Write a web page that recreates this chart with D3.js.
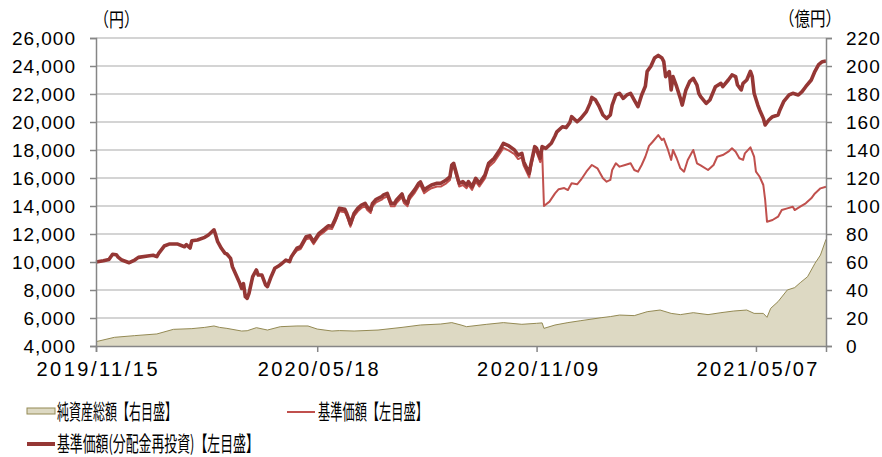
<!DOCTYPE html>
<html>
<head>
<meta charset="utf-8">
<script src="https://cdn.jsdelivr.net/npm/d3@7"></script>
<style>
  body { margin: 0; background: #fff; }
  .tick text { font-family: "Liberation Sans", Arial, sans-serif; font-size: 19px; fill: #000; letter-spacing: 1px; }
  .jp { font-family: "Noto Sans CJK JP", "Noto Sans CJK SC", sans-serif; fill: #000; }
</style>
</head>
<body>
<div id="chart"></div>
<script>
// trading-day index (x) and values

// 基準価額(分配金再投資) [day, yen]
var reinvest = [[0,10000],[4,10090],[7,10180],[9,10550],[11,10520],[12,10350],[14,10140],[18,9950],[21,10140],[23,10330],
  [28,10430],[31,10480],[33,10380],[34,10620],[37,11140],[40,11290],[44,11290],[48,11090],[49,11240],[51,11000],
  [52,11520],[55,11570],[59,11760],[61,11930],[64,12300],[65,11900],[66,11450],[68,10980],[70,10620],[71,10570],
  [73,10260],[74,9660],[76,9070],[78,8480],[79,8120],[80,8450],[81,7520],[82,7410],[83,7760],[85,8950],
  [87,9430],[88,9070],[90,9070],[92,8360],[93,8240],[95,8950],[97,9550],[99,9710],[101,9910],[103,10140],
  [105,10020],[106,10380],[109,10980],[111,11090],[114,11810],[116,11880],[118,11450],[121,12050],[124,12360],[126,12590],
  [128,12550],[130,13120],[132,13830],[135,13760],[136,13480],[137,13120],[138,12710],[140,13480],[142,13830],[144,14070],
  [146,14190],[147,13950],[149,13710],[150,14190],[152,14480],[155,14670],[156,14790],[158,14900],[159,14550],[160,14190],
  [162,14190],[163,14430],[166,14860],[167,14430],[169,14190],[170,14670],[173,15190],[175,15620],[176,15720],[178,15140],
  [180,15340],[182,15500],[185,15620],[187,15620],[190,15860],[192,16090],[193,16930],[194,17050],[196,16090],[197,15620],
  [199,15740],[201,15500],[202,15740],[204,15380],[206,15980],[208,15620],[211,16210],[213,17050],[216,17410],[219,18000],
  [221,18480],[224,18290],[227,18000],[229,17640],[231,17760],[232,17160],[235,16330],[236,17050],[238,18240],[239,18120],
  [241,17410],[242,18240],[244,18120],[247,18480],[249,19000],[250,19300],[253,19660],[255,19600],[257,19950],[258,20380],
  [261,20020],[263,20260],[266,20740],[268,21330],[269,21760],[271,21570],[273,21090],[275,20500],[277,20260],[279,20500],
  [280,21210],[282,21930],[284,22050],[286,21690],[288,21930],[290,22050],[292,21570],[294,21090],[296,21930],[298,22550],
  [299,23620],[301,23980],[303,24570],[305,24760],[307,24570],[308,24310],[309,23240],[311,23600],[312,22290],[313,23240],
  [315,22520],[317,21690],[318,21210],[320,22290],[322,22880],[324,23120],[326,22640],[327,22050],[328,21810],[331,21330],
  [333,21570],[336,22520],[339,22760],[340,22520],[343,23000],[345,23360],[347,23240],[348,22640],[350,22290],[351,22760],
  [353,23000],[355,23620],[356,23240],[357,22050],[359,21210],[360,20860],[362,20260],[363,19790],[365,20140],[367,20380],
  [370,20500],[371,20860],[373,21450],[376,21930],[378,22050],[381,21930],[383,22170],[385,22520],[388,23000],[390,23620],
  [392,24100],[394,24310],[396,24360]];

// 基準価額 [day, yen]
var nav = [[0,10000],[4,10090],[7,10180],[9,10550],[11,10520],[12,10350],[14,10140],[18,9950],[21,10140],[23,10330],
  [28,10430],[31,10480],[33,10380],[34,10620],[37,11140],[40,11290],[44,11290],[48,11090],[49,11240],[51,11000],
  [52,11520],[55,11570],[59,11760],[61,11930],[64,12300],[65,11900],[66,11450],[68,10980],[70,10620],[71,10570],
  [73,10260],[74,9660],[76,9070],[78,8480],[79,8120],[80,8450],[81,7520],[82,7410],[83,7760],[85,8950],
  [87,9430],[88,9070],[90,9070],[92,8360],[93,8240],[95,8950],[97,9550],[99,9710],[101,9910],[103,10140],
  [105,10020],[106,10380],[109,10820],[111,10920],[114,11630],[116,11700],[118,11280],[121,11870],[124,12170],[126,12400],
  [128,12360],[130,12920],[132,13620],[135,13550],[136,13280],[137,12920],[138,12520],[140,13280],[142,13620],[144,13860],
  [146,13980],[147,13740],[149,13500],[150,13980],[152,14260],[155,14450],[156,14570],[158,14680],[159,14330],[160,13980],
  [162,13980],[163,14210],[166,14640],[167,14210],[169,13980],[170,14450],[173,14960],[175,15390],[176,15480],[178,14910],
  [180,15110],[182,15270],[185,15390],[187,15390],[190,15620],[192,15850],[193,16680],[194,16790],[196,15850],[197,15390],
  [199,15500],[201,15270],[202,15500],[204,15150],[206,15740],[208,15390],[211,15970],[213,16790],[216,17150],[219,17730],
  [221,18150],[224,17950],[227,17700],[229,17350],[231,17470],[232,16880],[235,16050],[236,16780],[238,17950],[239,17830],
  [241,17130],[242,17950],[243,14000],[246,14310],[249,14900],[251,15200],[254,15280],[256,15140],[258,15620],[261,15550],
  [263,15860],[266,16450],[269,16930],[272,16690],[275,15980],[277,15740],[279,15860],[280,16570],[282,17050],[284,16810],
  [287,16930],[290,17050],[292,16570],[294,16450],[296,16930],[298,17520],[300,18290],[302,18590],[305,19070],[307,18710],
  [308,18810],[310,18120],[312,17290],[313,18000],[315,17410],[317,16690],[319,16450],[321,17290],[323,17760],[324,18000],
  [326,17050],[328,16900],[332,16570],[335,16930],[337,17520],[340,17640],[343,17880],[345,18120],[347,17880],[349,17410],
  [351,17290],[352,17760],[355,18190],[357,17520],[358,16450],[360,16090],[362,15500],[363,14430],[364,12880],[367,13000],
  [370,13240],[372,13710],[375,13830],[378,13950],[379,13710],[382,13950],[385,14190],[388,14550],[390,14900],[393,15260],
  [396,15380]];

// 純資産総額 [day, 億円]
var assets = [[0,3.1],[10,6.2],[21,7.4],[33,8.6],[42,11.9],[52,12.4],[59,13.3],[64,14.3],[67,13.3],[71,12.6],
  [79,10.7],[82,10.9],[87,13.1],[93,11.4],[100,13.8],[109,14.3],[115,14.3],[120,12.1],[128,10.7],[132,11],
  [140,10.7],[153,11.4],[166,13.3],[176,15],[187,15.7],[193,16.7],[198,15],[201,13.8],[212,15.5],[221,16.7],
  [231,15.5],[239,16.2],[242,16.5],[243,12.6],[249,15],[256,16.7],[263,18.1],[274,20.2],[279,21],[284,22.1],
  [292,21.7],[299,24.5],[306,25.7],[312,23.3],[317,22.4],[324,23.8],[332,22.4],[339,23.8],[346,25],[353,25.7],
  [357,23.3],[362,23.3],[364,20.5],[366,26.9],[370,31.7],[375,40],[379,41.7],[382,45.2],[386,49.5],[390,59],
  [393,65],[396,76.2]];

var leftTicks = [4000,6000,8000,10000,12000,14000,16000,18000,20000,22000,24000,26000];
var rightTicks = [0,20,40,60,80,100,120,140,160,180,200,220];
var dateTickDays = [0,120,239,358];
var dateTickLabels = ["2019/11/15","2020/05/18","2020/11/09","2021/05/07"];

var legendItems = ["純資産総額【右目盛】","基準価額【左目盛】","基準価額(分配金再投資)【左目盛】"];

var W = 882, H = 457;
var margin = {top: 38, left: 96, right: 56, bottom: 111};

var svg = d3.select("#chart").append("svg")
  .attr("width", W).attr("height", H);

var x = d3.scaleLinear().domain([0, 396]).range([margin.left, W - margin.right]);
var yL = d3.scaleLinear().domain([4000, 26000]).range([H - margin.bottom, margin.top]);
var yR = d3.scaleLinear().domain([0, 220]).range([H - margin.bottom, margin.top]);

// grid
svg.append("g").selectAll("line")
  .data(leftTicks.slice(1))
  .enter().append("line")
  .attr("x1", x(0)).attr("x2", x(396))
  .attr("y1", d => yL(d)).attr("y2", d => yL(d))
  .style("stroke", "#c6c6c6").style("stroke-width", 1.5);

// net assets area
var area = d3.area()
  .x(d => x(d[0]))
  .y0(yR(0))
  .y1(d => yR(d[1]));

svg.append("path")
  .datum(assets)
  .attr("d", area)
  .style("fill", "#ddd9c3");

svg.append("path")
  .datum(assets)
  .attr("d", d3.line().x(d => x(d[0])).y(d => yR(d[1])))
  .style("fill", "none").style("stroke", "#948a54").style("stroke-width", 1);

// lines
var lineL = d3.line().x(d => x(d[0])).y(d => yL(d[1]));

svg.append("path")
  .datum(nav)
  .attr("d", lineL)
  .style("fill", "none").style("stroke", "#c0504d").style("stroke-width", 2)
  .style("stroke-linejoin", "round");

svg.append("path")
  .datum(reinvest)
  .attr("d", lineL)
  .style("fill", "none").style("stroke", "#953735").style("stroke-width", 3.6)
  .style("stroke-linejoin", "round");

// axes
var axL = svg.append("g")
  .attr("transform", "translate(" + x(0) + ",0)")
  .call(d3.axisLeft(yL).tickValues(leftTicks).tickFormat(d3.format(",")).tickSize(6).tickPadding(14));

var axR = svg.append("g")
  .attr("transform", "translate(" + x(396) + ",0)")
  .call(d3.axisRight(yR).tickValues(rightTicks).tickSize(6).tickPadding(14));

var axB = svg.append("g")
  .attr("transform", "translate(0," + yL(4000) + ")")
  .call(d3.axisBottom(x).tickValues(dateTickDays).tickFormat((d, i) => dateTickLabels[i]).tickSize(6).tickPadding(10));

axB.selectAll(".tick text")
  .style("font-size", "20px").style("letter-spacing", "0px")
  .attr("textLength", 121).attr("lengthAdjust", "spacing").attr("x", -60).style("text-anchor", "start");

[axL, axR, axB].forEach(function(a) {
  a.select(".domain").style("stroke", "#868686").style("stroke-width", 1.5);
  a.selectAll(".tick line").style("stroke", "#868686").style("stroke-width", 1.5);
});

// squeeze a text horizontally to a given width (the reference font is condensed)
function squeeze(sel, px, py, w) {
  var natural = sel.node().getComputedTextLength();
  sel.attr("transform", "translate(" + px + "," + py + ") scale(" + (w / natural) + ",1)");
}

// axis units
squeeze(svg.append("text").attr("class", "jp").style("font-size", "19px").text("（円）"), 94, 27, 45);
squeeze(svg.append("text").attr("class", "jp").style("font-size", "19px").text("（億円）"), 779, 26, 62);

// legend
var lg = svg.append("g");
lg.append("rect").attr("x", 27).attr("y", 408).attr("width", 28).attr("height", 6)
  .style("fill", "#ddd9c3").style("stroke", "#948a54").style("stroke-width", 1);
lg.append("line").attr("x1", 287).attr("x2", 315).attr("y1", 412).attr("y2", 412)
  .style("stroke", "#c0504d").style("stroke-width", 2);
lg.append("line").attr("x1", 27).attr("x2", 55).attr("y1", 444).attr("y2", 444)
  .style("stroke", "#953735").style("stroke-width", 4);

var legendPos = [[57, 411, 120], [318, 411, 110], [57, 443, 202]];
legendItems.forEach(function(t, i) {
  var tx = lg.append("text")
    .attr("class", "jp")
    .attr("dy", "0.36em")
    .style("font-size", "21px")
    .text(t);
  squeeze(tx, legendPos[i][0], legendPos[i][1], legendPos[i][2]);
});
</script>
</body>
</html>
